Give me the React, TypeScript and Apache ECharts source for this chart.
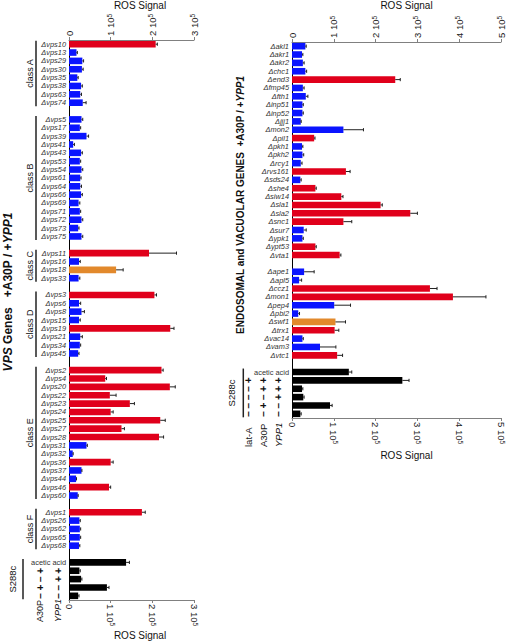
import React, { useEffect, useRef } from "react";
import * as echarts from "echarts";

// ---------- DATA (values in units of 1e5 ROS signal) ----------
const classAGenes = ["vps10", "vps13", "vps29", "vps30", "vps35", "vps38", "vps63", "vps74"];
const classAValues = [2.08, 0.18, 0.32, 0.31, 0.2, 0.29, 0.27, 0.33];
const classAErrors = [0.04, 0.02, 0.03, 0.03, 0.02, 0.03, 0.03, 0.08];
const classAColors = ["r", "b", "b", "b", "b", "b", "b", "b"];

const classBGenes = ["vps5", "vps17", "vps39", "vps41", "vps43", "vps53", "vps54", "vps61", "vps64", "vps66", "vps69", "vps71", "vps72", "vps73", "vps75"];
const classBValues = [0.3, 0.26, 0.42, 0.1, 0.29, 0.26, 0.3, 0.27, 0.27, 0.29, 0.23, 0.26, 0.3, 0.22, 0.3];
const classBErrors = [0.03, 0.02, 0.05, 0.03, 0.03, 0.02, 0.03, 0.02, 0.03, 0.03, 0.03, 0.02, 0.03, 0.02, 0.03];
const classBColors = ["b", "b", "b", "b", "b", "b", "b", "b", "b", "b", "b", "b", "b", "b", "b"];

const classCGenes = ["vps11", "vps16", "vps18", "vps33"];
const classCValues = [1.92, 0.24, 1.13, 0.23];
const classCErrors = [0.66, 0.03, 0.17, 0.03];
const classCColors = ["r", "b", "o", "b"];

const classDGenes = ["vps3", "vps6", "vps8", "vps15", "vps19", "vps21", "vps34", "vps45"];
const classDValues = [2.05, 0.24, 0.3, 0.24, 2.43, 0.27, 0.26, 0.22];
const classDErrors = [0.05, 0.04, 0.07, 0.03, 0.09, 0.05, 0.02, 0.02];
const classDColors = ["r", "b", "b", "b", "r", "b", "b", "b"];

const classEGenes = ["vps2", "vps4", "vps20", "vps22", "vps23", "vps24", "vps25", "vps27", "vps28", "vps31", "vps32", "vps36", "vps37", "vps44", "vps46", "vps60"];
const classEValues = [2.22, 0.87, 2.42, 0.98, 1.46, 1.0, 2.19, 1.26, 2.16, 0.42, 0.09, 1.0, 0.3, 0.17, 0.96, 0.21];
const classEErrors = [0.04, 0.03, 0.13, 0.15, 0.11, 0.06, 0.12, 0.07, 0.11, 0.02, 0.01, 0.06, 0.01, 0.01, 0.04, 0.01];
const classEColors = ["r", "r", "r", "r", "r", "r", "r", "r", "r", "b", "b", "r", "b", "b", "r", "b"];

const classFGenes = ["vps1", "vps26", "vps62", "vps65", "vps68"];
const classFValues = [1.75, 0.25, 0.26, 0.26, 0.24];
const classFErrors = [0.08, 0.02, 0.02, 0.02, 0.02];
const classFColors = ["r", "b", "b", "b", "b"];

const leftControlLabels = ["acetic acid", "", "", "", ""];
const leftControlValues = [1.37, 0.25, 0.29, 0.91, 0.22];
const leftControlErrors = [0.08, 0.02, 0.02, 0.05, 0.02];
const leftControlColors = ["k", "k", "k", "k", "k"];
const leftA30P = ["+", "−", "+", "−"];
const leftYPP1 = ["+", "+", "−", "−"];

const endoGenes = ["akl1", "akr1", "akr2", "chc1", "end3", "fmp45", "fth1", "inp51", "inp52", "jjj1", "mon2", "pil1", "pkh1", "pkh2", "rcy1", "rvs161", "sds24", "she4", "siw14", "sla1", "sla2", "snc1", "sur7", "ypk1", "ypt53", "vta1"];
const endoValues = [0.32, 0.24, 0.26, 0.32, 2.47, 0.26, 0.33, 0.25, 0.25, 0.21, 1.23, 0.53, 0.24, 0.25, 0.21, 1.29, 0.2, 0.56, 1.18, 2.12, 2.83, 1.23, 0.28, 0.25, 0.56, 1.14];
const endoErrors = [0.02, 0.02, 0.03, 0.03, 0.12, 0.03, 0.05, 0.02, 0.02, 0.01, 0.48, 0.02, 0.02, 0.03, 0.03, 0.1, 0.02, 0.02, 0.04, 0.04, 0.17, 0.2, 0.06, 0.02, 0.02, 0.03];
const endoColors = ["b", "b", "b", "b", "r", "b", "b", "b", "b", "b", "b", "r", "b", "b", "b", "r", "b", "r", "r", "r", "r", "r", "b", "b", "r", "r"];

const vacGenes = ["ape1", "apl5", "ccz1", "mon1", "pep4", "pbi2", "swf1", "trx1", "vac14", "vam3", "vtc1"];
const vacValues = [0.29, 0.17, 3.3, 3.85, 1.01, 0.15, 1.04, 1.02, 0.25, 0.67, 1.08];
const vacErrors = [0.24, 0.06, 0.17, 0.79, 0.39, 0.03, 0.24, 0.1, 0.02, 0.38, 0.13];
const vacColors = ["b", "b", "r", "r", "b", "b", "o", "r", "b", "b", "r"];

const rightControlLabels = ["acetic acid", "", "", "", "", ""];
const rightControlValues = [1.36, 2.64, 0.24, 0.27, 0.91, 0.2];
const rightControlErrors = [0.07, 0.16, 0.02, 0.02, 0.05, 0.02];
const rightControlColors = ["k", "k", "k", "k", "k", "k"];
const rightLatA = ["+", "−", "−", "−", "−"];
const rightA30P = ["+", "+", "−", "+", "−"];
const rightYPP1 = ["+", "+", "+", "−", "−"];

const leftAxisMax = 3;
const rightAxisMax = 5;
const leftTicks = [0, 1, 2, 3];
const rightTicks = [0, 1, 2, 3, 4, 5];
const axisTitle = "ROS Signal";

// ---------- STYLE ----------
const FONT = '"Liberation Sans", Arial, Helvetica, sans-serif';
const COLORS: Record<string, string> = { r: "#e0001b", b: "#0a14ff", o: "#e2892c", k: "#000000" };

type Group = { label: string; labels: string[]; values: number[]; errors: number[]; colors: string[] };

const delta = (a: string[]) => a.map((g) => "Δ" + g);

const leftGroups: Group[] = [
  { label: "class A", labels: delta(classAGenes), values: classAValues, errors: classAErrors, colors: classAColors },
  { label: "class B", labels: delta(classBGenes), values: classBValues, errors: classBErrors, colors: classBColors },
  { label: "class C", labels: delta(classCGenes), values: classCValues, errors: classCErrors, colors: classCColors },
  { label: "class D", labels: delta(classDGenes), values: classDValues, errors: classDErrors, colors: classDColors },
  { label: "class E", labels: delta(classEGenes), values: classEValues, errors: classEErrors, colors: classEColors },
  { label: "class F", labels: delta(classFGenes), values: classFValues, errors: classFErrors, colors: classFColors },
  { label: "S288c", labels: leftControlLabels, values: leftControlValues, errors: leftControlErrors, colors: leftControlColors },
];

const rightGroups: Group[] = [
  { label: "", labels: delta(endoGenes), values: endoValues, errors: endoErrors, colors: endoColors },
  { label: "", labels: delta(vacGenes), values: vacValues, errors: vacErrors, colors: vacColors },
  { label: "S288c", labels: rightControlLabels, values: rightControlValues, errors: rightControlErrors, colors: rightControlColors },
];

function buildPanel(groups: Group[], key: string) {
  const cats: string[] = [];
  const bars: any[] = [];
  const errs: any[] = [];
  const ranges: { label: string; start: number; end: number }[] = [];
  groups.forEach((g, gi) => {
    if (gi > 0) {
      cats.push(`_${key}gap${gi}`);
      bars.push("-");
    }
    const start = cats.length;
    g.labels.forEach((lab, i) => {
      const idx = cats.length;
      cats.push(lab === "" ? `_${key}row${gi}_${i}` : lab);
      bars.push({ value: g.values[i] * 1e5, itemStyle: { color: COLORS[g.colors[i]] } });
      errs.push([g.values[i] * 1e5, idx, g.errors[i] * 1e5]);
    });
    ranges.push({ label: g.label, start, end: cats.length - 1 });
  });
  return { cats, bars, errs, ranges };
}

const errorRender = (params: any, api: any) => {
  const v = api.value(0);
  const c = api.value(1);
  const e = api.value(2);
  const p0 = api.coord([v, c]);
  const p1 = api.coord([v + e, c]);
  return {
    type: "group",
    children: [
      { type: "line", shape: { x1: p0[0], y1: p0[1], x2: p1[0], y2: p1[1] }, style: { stroke: "#222", lineWidth: 1 } },
      { type: "line", shape: { x1: p1[0], y1: p1[1] - 1.6, x2: p1[0], y2: p1[1] + 1.6 }, style: { stroke: "#222", lineWidth: 1 } },
    ],
  };
};

const tickText = (n: number) => (n === 0 ? "0" : `${n} 10{s|5}`);
const tickFormatter = (v: number) => tickText(Math.round(v / 1e5));

function valueAxis(grid: number, max: number, position: "top" | "bottom") {
  return {
    type: "value",
    gridIndex: grid,
    position,
    min: 0,
    max: max * 1e5,
    interval: 1e5,
    axisLine: { show: true, onZero: false, lineStyle: { color: "#808080", width: 1 } },
    axisTick: { show: true, length: 3, lineStyle: { color: "#808080" } },
    splitLine: { show: false },
    axisLabel: {
      show: position === "top",
      rotate: -90,
      margin: 4,
      fontSize: 9.5,
      color: "#222",
      formatter: tickFormatter,
      rich: { s: { fontSize: 6.5, verticalAlign: "top", color: "#222" } },
    },
  };
}

function catAxis(grid: number, cats: string[]) {
  return {
    type: "category",
    gridIndex: grid,
    data: cats,
    inverse: true,
    axisLine: { show: true, lineStyle: { color: "#000", width: 1 } },
    axisTick: { show: false },
    splitLine: { show: false },
    axisLabel: {
      interval: 0,
      margin: 3,
      fontFamily: FONT,
      fontSize: 7.4,
      fontStyle: "italic",
      color: "#333",
      formatter: (v: string) => (v.startsWith("_") ? "" : v.startsWith("Δ") ? v : `{n|${v}}`),
      rich: { n: { fontStyle: "normal", fontFamily: FONT, fontSize: 7.4, color: "#333" } },
    },
  };
}

export default function App() {
  const ref = useRef<HTMLDivElement>(null);

  useEffect(() => {
    if (!ref.current) return;
    const chart = echarts.init(ref.current, undefined, { renderer: "svg" });
    const L = buildPanel(leftGroups, "L");
    const R = buildPanel(rightGroups, "R");

    const makeBase = () => ({
      animation: false,
      backgroundColor: "#fff",
      grid: [
        { left: 69, top: 40, width: 125, height: 560, containLabel: false },
        { left: 292, top: 42, width: 209, height: 376, containLabel: false },
      ],
      xAxis: [
        valueAxis(0, leftAxisMax, "top"),
        valueAxis(0, leftAxisMax, "bottom"),
        valueAxis(1, rightAxisMax, "top"),
        valueAxis(1, rightAxisMax, "bottom"),
      ],
      yAxis: [catAxis(0, L.cats), catAxis(1, R.cats)],
      series: [
        { type: "bar", xAxisIndex: 0, yAxisIndex: 0, data: L.bars, barWidth: 6.6, z: 2 },
        { type: "custom", xAxisIndex: 0, yAxisIndex: 0, data: L.errs, renderItem: errorRender, z: 3, encode: { x: 0, y: 1 } },
        { type: "bar", xAxisIndex: 2, yAxisIndex: 1, data: R.bars, barWidth: 6.6, z: 2 },
        { type: "custom", xAxisIndex: 2, yAxisIndex: 1, data: R.errs, renderItem: errorRender, z: 3, encode: { x: 0, y: 1 } },
      ],
    });

    chart.setOption(makeBase());
    const px = (grid: number, x: number, idx: number) => chart.convertToPixel({ gridIndex: grid } as any, [x, idx]) as number[];
    const yc = (grid: number, idx: number) => px(grid, 0, idx)[1];
    const xAt = (grid: number, v: number) => px(grid, v * 1e5, 0)[0];
    const gridBottom = (grid: number, n: number) => yc(grid, n - 1) + (yc(grid, 1) - yc(grid, 0)) / 2;

    const vtext = (text: string, x: number, y: number, o: any = {}) => ({
      type: "text",
      x,
      y,
      rotation: o.rotation ?? Math.PI / 2,
      z: 10,
      style: {
        text,
        x: 0,
        y: 0,
        align: o.align || "center",
        verticalAlign: "middle",
        fontFamily: o.fontFamily || FONT,
        fontSize: o.fontSize || 9,
        fontWeight: o.fontWeight || "normal",
        fontStyle: o.fontStyle || "normal",
        fill: o.fill || "#111",
        rich: o.rich,
      },
    });
    const htext = (text: string, x: number, y: number) => ({
      type: "text",
      x,
      y,
      z: 10,
      style: { text, x: 0, y: 0, align: "center", verticalAlign: "middle", fontFamily: FONT, fontSize: 10, fill: "#111" },
    });
    const vline = (x: number, y1: number, y2: number) => ({
      type: "line",
      z: 10,
      shape: { x1: x, y1, x2: x, y2 },
      style: { stroke: "#222", lineWidth: 1.5 },
    });

    const graphics: any[] = [];
    const lx = xAt(0, leftAxisMax / 2) + 8.5;
    const rx = xAt(1, rightAxisMax / 2) + 10;
    graphics.push(htext(axisTitle, lx, 5));
    graphics.push(htext(axisTitle, lx, 635));
    graphics.push(htext(axisTitle, rx, 5));
    graphics.push(htext(axisTitle, rx, 455));

    // bottom tick labels, rotated clockwise like the top ones
    const tickRich = { s: { fontSize: 6.5, verticalAlign: "top", fill: "#222", fontFamily: "sans-serif" } };
    const lb = gridBottom(0, L.cats.length);
    const rb = gridBottom(1, R.cats.length);
    leftTicks.forEach((t) =>
      graphics.push(vtext(tickText(t), xAt(0, t), lb + 4, { rotation: -Math.PI / 2, align: "left", fontSize: 9.5, fontFamily: "sans-serif", fill: "#222", rich: tickRich }))
    );
    rightTicks.forEach((t) =>
      graphics.push(vtext(tickText(t), xAt(1, t), rb + 4, { rotation: -Math.PI / 2, align: "left", fontSize: 9.5, fontFamily: "sans-serif", fill: "#222", rich: tickRich }))
    );

    L.ranges.forEach((r) => {
      const y1 = yc(0, r.start) - 3.5;
      const y2 = yc(0, r.end) + 3.5;
      if (r.label === "S288c") {
        graphics.push(vline(23, y1, y2));
        graphics.push(vtext(r.label, 12.5, (y1 + y2) / 2, { fontSize: 9.5 }));
        leftA30P.forEach((s, i) => graphics.push(vtext(s, 40, yc(0, r.start + 1 + i), { fontSize: 10, fontWeight: "bold" })));
        leftYPP1.forEach((s, i) => graphics.push(vtext(s, 58, yc(0, r.start + 1 + i), { fontSize: 10, fontWeight: "bold" })));
        graphics.push(vtext("A30P", 40, 622, { align: "left", fontSize: 9 }));
        graphics.push(vtext("YPP1", 58, 622, { align: "left", fontSize: 9, fontStyle: "italic" }));
      } else {
        graphics.push(vline(36, y1, y2));
        graphics.push(vtext(r.label, 29.5, (y1 + y2) / 2, { fontSize: 9 }));
      }
    });
    R.ranges.forEach((r) => {
      if (r.label !== "S288c") return;
      const y1 = yc(1, r.start) - 3.5;
      const y2 = yc(1, r.end) + 3.5;
      graphics.push(vline(243.3, y1, y2));
      graphics.push(vtext(r.label, 231.7, (y1 + y2) / 2, { fontSize: 9.5 }));
      rightLatA.forEach((s, i) => graphics.push(vtext(s, 248.3, yc(1, r.start + 1 + i), { fontSize: 10, fontWeight: "bold" })));
      rightA30P.forEach((s, i) => graphics.push(vtext(s, 263.3, yc(1, r.start + 1 + i), { fontSize: 10, fontWeight: "bold" })));
      rightYPP1.forEach((s, i) => graphics.push(vtext(s, 278.3, yc(1, r.start + 1 + i), { fontSize: 10, fontWeight: "bold" })));
      graphics.push(vtext("lat-A", 248.3, 447, { align: "left", fontSize: 9.5 }));
      graphics.push(vtext("A30P", 263.3, 447, { align: "left", fontSize: 9.5 }));
      graphics.push(vtext("YPP1", 278.3, 447, { align: "left", fontSize: 9.5, fontStyle: "italic" }));
    });

    graphics.push(
      vtext("{i|VPS} Genes   +A30P / +{i|YPP1}", 8, 292, {
        fontSize: 12,
        fontWeight: "bold",
        rich: { i: { fontStyle: "italic", fontWeight: "bold", fontFamily: FONT, fontSize: 12, fill: "#111" } },
      })
    );
    graphics.push(
      vtext("ENDOSOMAL and VACUOLAR GENES  +A30P / +{i|YPP1}", 240, 205, {
        fontSize: 10,
        fontWeight: "bold",
        rich: { i: { fontStyle: "italic", fontWeight: "bold", fontFamily: FONT, fontSize: 10, fill: "#111" } },
      })
    );

    // second pass: a fresh, complete option (not merged)
    chart.clear();
    chart.setOption({ ...makeBase(), graphic: graphics }, true);

    return () => chart.dispose();
  }, []);

  return <div ref={ref} style={{ position: "absolute", left: 0, top: 0, width: 512, height: 641 }} />;
}
